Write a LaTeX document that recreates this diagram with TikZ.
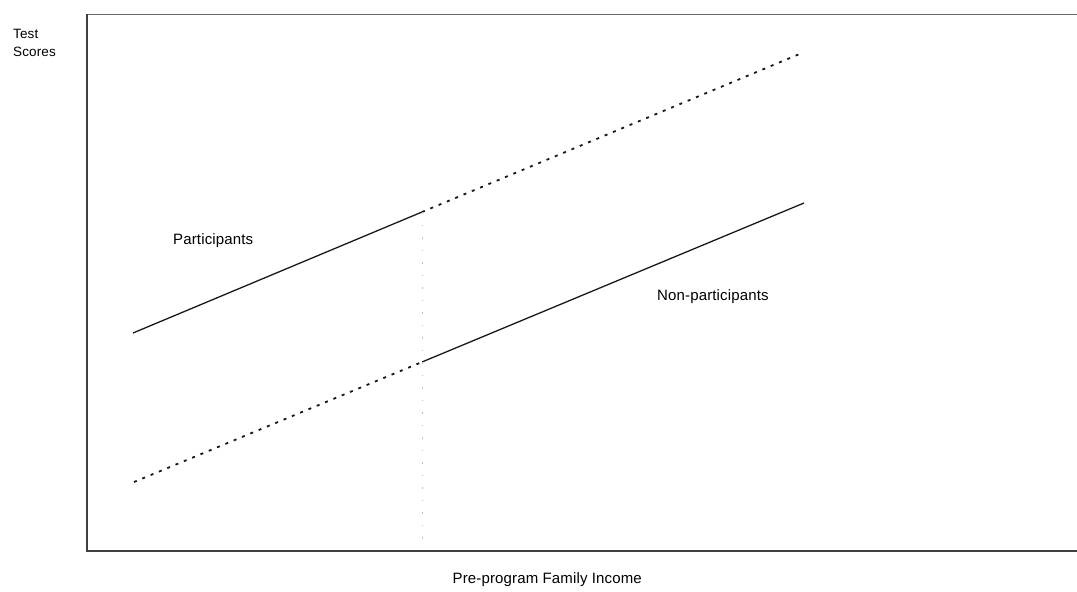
\documentclass[tikz,border=0pt]{standalone}
\usepackage{fontspec}
\setmainfont{Liberation Sans}
\newfontfamily\lblfont[LetterSpace=1]{Liberation Sans}
\usepackage{tikz}
\usetikzlibrary{calc, positioning}

\begin{document}
\begin{tikzpicture}[x=1pt,y=-1pt,-,
                    solid line/.style={line width=1.3pt,black!90},
                    dot line/.style={line width=1.8pt,black!90,dash pattern=on 3pt off 6pt},
                    cut line/.style={line width=1pt,black!25,dash pattern=on 1.5pt off 11pt},
                    lbl/.style={anchor=base west,inner sep=0pt,font=\lblfont\fontsize{15}{17}\selectfont}]

\useasboundingbox (0,0) rectangle (1077,592);

%DRAWING the axes frame
 \coordinate (Origin) at (87,551);
 \coordinate (TopLeft) at (87,14);
 \coordinate (TopRight) at (1077,14);
 \coordinate (BottomRight) at (1077,551);
 \draw[line width=1pt,black!60] (TopRight)--(TopLeft);
 \draw[line width=1.2pt,black!75] (TopLeft)--(Origin)--(BottomRight);

%Participants line
 \coordinate (PartStart) at (133,333);
 \coordinate (PartBreak) at (422,212);
 \coordinate (PartEnd) at (802,53);
 \draw[solid line] (PartStart)--(PartBreak);
 \draw[dot line] (PartBreak)--(PartEnd);

%Non-participants line
 \coordinate (NonStart) at (134,482);
 \coordinate (NonBreak) at (422,362);
 \coordinate (NonEnd) at (804,203);
 \draw[dot line] (NonStart)--(NonBreak);
 \draw[solid line] (NonBreak)--(NonEnd);

%Cut-off at the break
 \coordinate (CutBottom) at (422,548);
 \draw[cut line] (PartBreak)--(CutBottom);

%Labels
 \node[lbl,font=\lblfont\fontsize{13.5}{15}\selectfont] (TestLabel) at (13,38) {Test};
 \node[lbl,font=\lblfont\fontsize{13.5}{15}\selectfont] (ScoresLabel) at (13,56) {Scores};
 \node[lbl] (PartLabel) at (173,244) {Participants};
 \node[lbl] (NonLabel) at (657,300) {Non-participants};
 \node[lbl,anchor=base east] (IncomeLabel) at (642,583) {Pre-program Family Income};

\end{tikzpicture}
\end{document}
